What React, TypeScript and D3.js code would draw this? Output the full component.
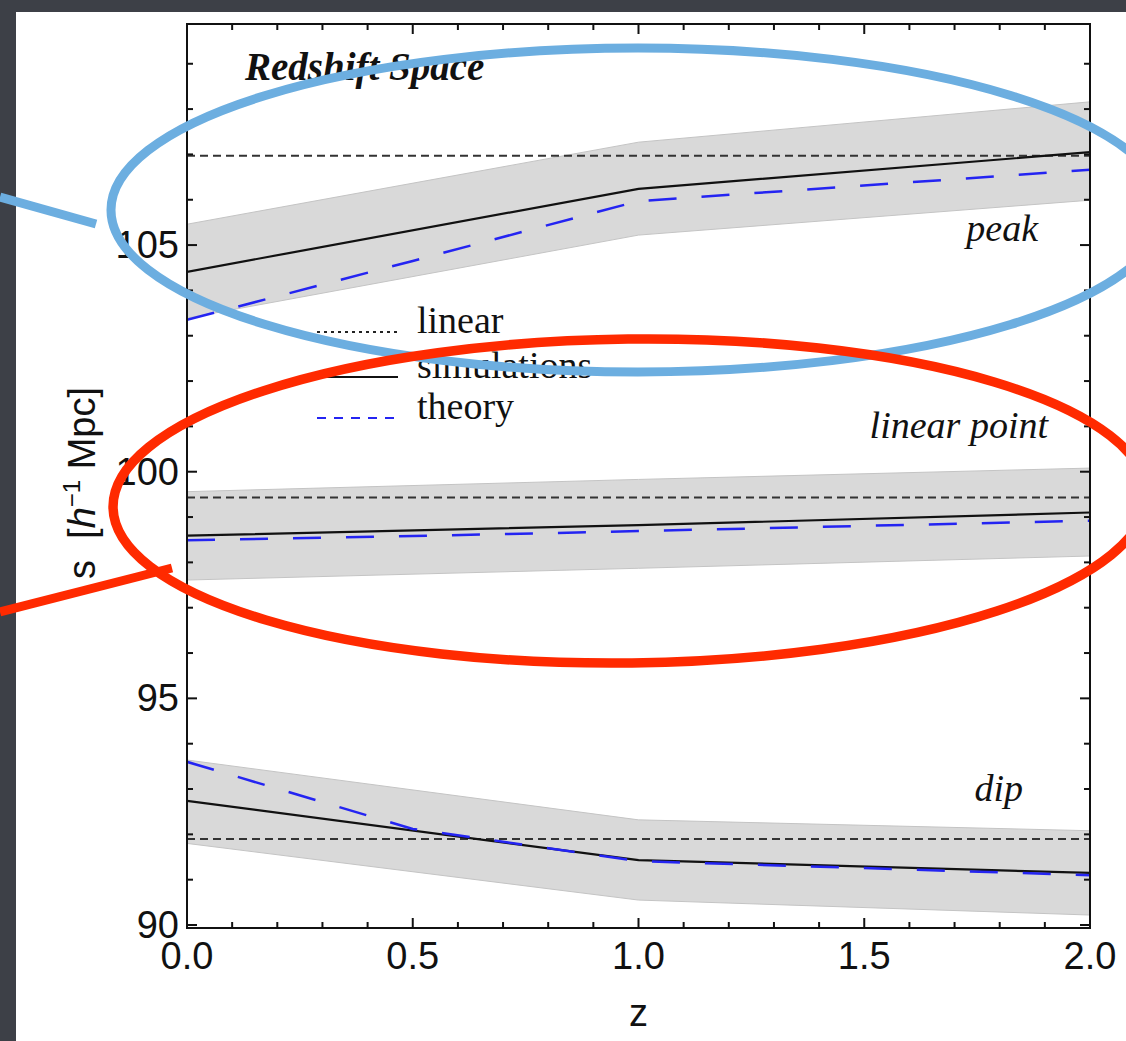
import React from "react";
import * as d3 from "d3";

// ---------- data ----------
const zSim = [0, 1, 2];
const zTheory = [0, 0.5, 1, 2];

const peakSim = [104.41, 106.24, 107.05];
const peakLow = [103.39, 105.22, 105.99];
const peakHigh = [105.46, 107.27, 108.16];
const peakTheory = [103.35, 104.65, 105.97, 106.66];
const peakLinear = 106.97;

const lpSim = [98.59, 98.82, 99.1];
const lpLow = [97.61, 97.87, 98.14];
const lpHigh = [99.56, 99.83, 100.08];
const lpTheory = [98.49, 98.58, 98.69, 98.92];
const lpLinear = 99.43;

const dipSim = [92.74, 91.43, 91.15];
const dipLow = [91.8, 90.55, 90.22];
const dipHigh = [93.64, 92.32, 92.08];
const dipTheory = [93.6, 92.12, 91.41, 91.1];
const dipLinear = 91.9;

const xMajorTicks = [0, 0.5, 1, 1.5, 2];
const xTickLabels = ["0.0", "0.5", "1.0", "1.5", "2.0"];
const yMajorTicks = [90, 95, 100, 105];
const yTickLabels = ["90", "95", "100", "105"];

const groups = [
  { sim: peakSim, low: peakLow, high: peakHigh, theory: peakTheory, linear: peakLinear },
  { sim: lpSim, low: lpLow, high: lpHigh, theory: lpTheory, linear: lpLinear },
  { sim: dipSim, low: dipLow, high: dipHigh, theory: dipTheory, linear: dipLinear },
];

const legendItems = ["linear", "simulations", "theory"];

// ---------- layout ----------
const W = 1126;
const H = 1041;
const L = 187, R = 1090, T = 24, B = 928;

const x = d3.scaleLinear().domain([0, 2]).range([L, R]);
const y = d3.scaleLinear().domain([89.934, 109.877]).range([B, T]);

const xMinor = d3.range(0, 2.0001, 0.1).map((v) => +v.toFixed(2));
const yMinor = d3.range(90, 110, 1);

const SANS = "'Liberation Sans', Arial, sans-serif";
const SERIF = "'Liberation Serif', 'Times New Roman', serif";

export default function App() {
  const line = (xs: number[]) =>
    d3
      .line<number>()
      .x((_, i) => x(xs[i]))
      .y((d) => y(d));

  const bandPath = (low: number[], high: number[]) => {
    const a = d3
      .area<number>()
      .x((_, i) => x(zSim[i]))
      .y0((_, i) => y(low[i]))
      .y1((d) => y(d));
    return a(high) || "";
  };

  return (
    <div style={{ position: "absolute", left: 0, top: 0, width: W, height: H }}>
      <svg width={W} height={H} viewBox={`0 0 ${W} ${H}`} style={{ display: "block" }}>
        <rect x={0} y={0} width={W} height={H} fill="#3d4047" />
        <rect x={16} y={12} width={W - 16} height={H - 12} fill="#ffffff" />

        <defs>
          <clipPath id="plotclip">
            <rect x={L} y={T} width={R - L} height={B - T} />
          </clipPath>
        </defs>

        <g clipPath="url(#plotclip)">
          {groups.map((g, gi) => (
            <g key={gi}>
              <path d={bandPath(g.low, g.high)} fill="#d9d9d9" stroke="#c4c4c4" strokeWidth={1} />
              <line
                x1={x(0)}
                x2={x(2)}
                y1={y(g.linear)}
                y2={y(g.linear)}
                stroke="#333"
                strokeWidth={2}
                strokeDasharray="8,5"
              />
              <path d={line(zSim)(g.sim) || ""} fill="none" stroke="#111" strokeWidth={2.2} />
              <path
                d={line(zTheory)(g.theory) || ""}
                fill="none"
                stroke="#2424f2"
                strokeWidth={2.5}
                strokeDasharray="28,25"
              />
            </g>
          ))}
        </g>

        {/* frame */}
        <rect x={L} y={T} width={R - L} height={B - T} fill="none" stroke="#111" strokeWidth={2} />

        {/* x ticks */}
        {xMinor.map((v, i) => {
          const major = xMajorTicks.some((m) => Math.abs(m - v) < 1e-6);
          const len = major ? 10 : 6;
          return (
            <g key={"xt" + i}>
              <line x1={x(v)} x2={x(v)} y1={B} y2={B - len} stroke="#111" strokeWidth={2} />
              <line x1={x(v)} x2={x(v)} y1={T} y2={T + len} stroke="#111" strokeWidth={2} />
            </g>
          );
        })}
        {/* y ticks */}
        {yMinor.map((v, i) => {
          const major = yMajorTicks.includes(v);
          const len = major ? 10 : 6;
          return (
            <g key={"yt" + i}>
              <line x1={L} x2={L + len} y1={y(v)} y2={y(v)} stroke="#111" strokeWidth={2} />
              <line x1={R} x2={R - len} y1={y(v)} y2={y(v)} stroke="#111" strokeWidth={2} />
            </g>
          );
        })}

        {xMajorTicks.map((v, i) => (
          <text
            key={"xl" + i}
            x={x(v)}
            y={969}
            textAnchor="middle"
            fontFamily={SANS}
            fontSize={38}
            fill="#111"
          >
            {xTickLabels[i]}
          </text>
        ))}
        {yMajorTicks.map((v, i) => (
          <text
            key={"yl" + i}
            x={179}
            y={y(v) + 13}
            textAnchor="end"
            fontFamily={SANS}
            fontSize={38}
            fill="#111"
          >
            {yTickLabels[i]}
          </text>
        ))}

        <text x={x(1)} y={1026} textAnchor="middle" fontFamily={SANS} fontSize={38} fill="#111">
          z
        </text>

        <text
          transform={`translate(95, 483) rotate(-90)`}
          textAnchor="middle"
          fontFamily={SANS}
          fontSize={38}
          fill="#111"
        >
          <tspan>{"s\u00a0\u00a0["}</tspan>
          <tspan fontStyle="italic">h</tspan>
          <tspan fontSize={24} dy={-15}>−1</tspan>
          <tspan dy={15}>{"\u00a0Mpc]"}</tspan>
        </text>

        {/* in-plot labels */}
        <text x={245} y={80} fontFamily={SERIF} fontWeight="bold" fontStyle="italic" fontSize={39} fill="#111">
          Redshift Space
        </text>
        <text x={1038} y={241} textAnchor="end" fontFamily={SERIF} fontStyle="italic" fontSize={38} fill="#111">
          peak
        </text>
        <text x={1048} y={438} textAnchor="end" fontFamily={SERIF} fontStyle="italic" fontSize={38} fill="#111">
          linear point
        </text>
        <text x={1023} y={801} textAnchor="end" fontFamily={SERIF} fontStyle="italic" fontSize={38} fill="#111">
          dip
        </text>

        {/* legend */}
        {legendItems.map((lbl, i) => {
          const ly = [332, 377, 418][i];
          const style =
            i === 0
              ? { stroke: "#222", dash: "3,4", w: 2 }
              : i === 1
              ? { stroke: "#111", dash: "", w: 2 }
              : { stroke: "#2424f2", dash: "9,8", w: 2.2 };
          return (
            <g key={"lg" + i}>
              <line
                x1={317}
                x2={398}
                y1={ly}
                y2={ly}
                stroke={style.stroke}
                strokeWidth={style.w}
                strokeDasharray={style.dash || undefined}
              />
              <text x={417} y={ly + 1} fontFamily={SERIF} fontSize={38} fill="#111">
                {lbl}
              </text>
            </g>
          );
        })}

        {/* annotations */}
        <ellipse cx={638} cy={210} rx={527} ry={162} fill="none" stroke="#6caee0" strokeWidth={9} />
        <line x1={0} y1={197} x2={96} y2={224} stroke="#6caee0" strokeWidth={9} />
        <ellipse
          cx={630}
          cy={501}
          rx={517}
          ry={162}
          fill="none"
          stroke="#ff2a00"
          strokeWidth={9.5}
          transform="rotate(-0.7 630 501)"
        />
        <line x1={0} y1={612} x2={172} y2={568} stroke="#ff2a00" strokeWidth={9} />
      </svg>
    </div>
  );
}
